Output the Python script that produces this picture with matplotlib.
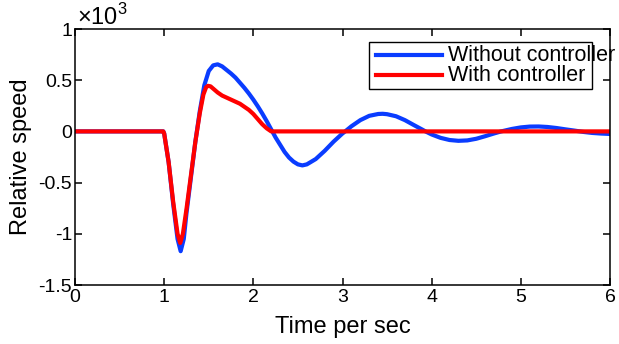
import matplotlib
matplotlib.use("Agg")
import matplotlib.pyplot as plt
from matplotlib.lines import Line2D
from matplotlib.patches import Rectangle

plt.rcParams['font.family'] = ['Liberation Sans', 'DejaVu Sans']
plt.rcParams['mathtext.fontset'] = 'custom'
plt.rcParams['mathtext.rm'] = 'Liberation Sans'

# Time (s) and relative speed (x1e-3)
t_without = [0, 0.99, 1.0, 1.05, 1.1, 1.15, 1.185, 1.22, 1.25, 1.3, 1.35, 1.4, 1.45, 1.5,
             1.55, 1.6, 1.65, 1.7, 1.75, 1.8, 1.85, 1.9, 1.95, 2.0, 2.05, 2.1, 2.15, 2.2,
             2.25, 2.3, 2.35, 2.4, 2.45, 2.5, 2.55, 2.6, 2.7, 2.8, 2.9, 3.0, 3.03, 3.1, 3.2,
             3.3, 3.4, 3.45, 3.5, 3.6, 3.7, 3.8, 3.9, 3.93, 4.0, 4.1, 4.2, 4.3, 4.4, 4.5,
             4.6, 4.7, 4.78, 4.9, 5.0, 5.1, 5.2, 5.3, 5.4, 5.5, 5.6, 5.7, 5.8, 5.9, 6.0]
v_without = [0, 0, -0.02, -0.3, -0.7, -1.05, -1.17, -1.05, -0.8, -0.45, -0.1, 0.2, 0.45, 0.59,
             0.645, 0.655, 0.635, 0.6, 0.565, 0.525, 0.475, 0.425, 0.37, 0.31, 0.245, 0.175, 0.1, 0.02,
             -0.06, -0.13, -0.2, -0.255, -0.295, -0.322, -0.332, -0.322, -0.27, -0.19, -0.1, -0.02, 0.0, 0.05, 0.11,
             0.152, 0.17, 0.172, 0.168, 0.148, 0.11, 0.062, 0.015, 0.0, -0.03, -0.063, -0.084, -0.092, -0.088, -0.072,
             -0.047, -0.02, 0.0, 0.024, 0.039, 0.047, 0.048, 0.043, 0.033, 0.02, 0.008, -0.005, -0.015, -0.021, -0.025]

t_with = [0, 0.99, 1.0, 1.05, 1.1, 1.15, 1.18, 1.21, 1.25, 1.3, 1.35, 1.4, 1.44, 1.47, 1.49,
          1.52, 1.56, 1.6, 1.65, 1.7, 1.75, 1.8, 1.85, 1.9, 1.95, 2.0, 2.05, 2.1, 2.15, 2.2, 6.0]
v_with = [0, 0, -0.02, -0.3, -0.68, -1.0, -1.09, -1.0, -0.76, -0.43, -0.1, 0.18, 0.36, 0.43, 0.445,
          0.44, 0.41, 0.38, 0.35, 0.33, 0.31, 0.29, 0.27, 0.24, 0.21, 0.17, 0.12, 0.07, 0.03, 0.0, 0.0]

x_ticks = [0, 1, 2, 3, 4, 5, 6]
y_ticks = [-1.5, -1, -0.5, 0, 0.5, 1]
y_ticklabels = ['-1.5', '-1', '-0.5', '0', '0.5', '1']
legend_labels = ['Without controller', 'With controller']
colors = ['#0a3cff', '#ff0000']

fig = plt.figure(figsize=(6.19, 3.44), dpi=100)
ax = fig.add_axes([75/619, 59/344, 535/619, 256/344])

ax.plot(t_without, v_without, color=colors[0], lw=3, solid_joinstyle='round')
ax.plot(t_with, v_with, color=colors[1], lw=3, solid_joinstyle='round')

ax.set_xlim(0, 6)
ax.set_ylim(-1.5, 1)
ax.set_xticks(x_ticks)
ax.set_xticklabels([str(x) for x in x_ticks])
ax.set_yticks(y_ticks)
ax.set_yticklabels(y_ticklabels)
ax.tick_params(direction='in', length=5, width=1.1, top=True, right=True,
               labelsize=14, colors='black')
ax.tick_params(axis='x', pad=3)
ax.tick_params(axis='y', pad=2)
for s in ax.spines.values():
    s.set_linewidth(1.1)
    s.set_zorder(5)

ax.set_xlabel('Time per sec', fontsize=17, labelpad=7)
ax.set_ylabel('Relative speed', fontsize=17, labelpad=5)

ax.text(0.003, 0.998, r'$\times10^{3}$', transform=ax.transAxes, fontsize=17,
        ha='left', va='bottom')

# Legend drawn manually (text overflows box as in original)
ax.add_patch(Rectangle((0.5495, 0.7656), 0.4169, 0.1834, transform=ax.transAxes,
                       facecolor='white', edgecolor='black', lw=1.0, zorder=4))
for i, (lab, c) in enumerate(zip(legend_labels, colors)):
    y = 0.898 - i * 0.078
    ax.add_line(Line2D([0.5626, 0.686], [y, y], transform=ax.transAxes,
                       color=c, lw=3, zorder=6))
    ax.text(0.697, y, lab, transform=ax.transAxes, fontsize=15.5,
            ha='left', va='center', zorder=6, clip_on=False)

fig.savefig('out.png', dpi=100)
